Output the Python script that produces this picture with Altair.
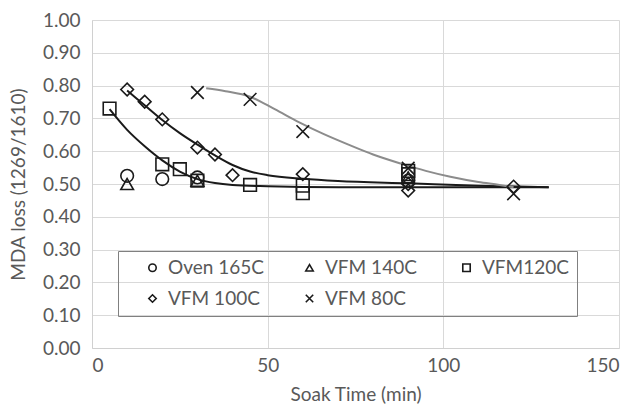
import altair as alt
import pandas as pd

series_names = ["Oven 165C", "VFM 140C", "VFM120C", "VFM 100C", "VFM 80C"]
series_shapes = ["circle", "triangle-up", "square", "diamond", "M-1,-1L1,1M1,-1L-1,1"]

oven_x = [10, 20, 30, 90]
oven_y = [0.525, 0.515, 0.52, 0.51]
vfm140_x = [10, 30, 90]
vfm140_y = [0.50, 0.51, 0.52]
vfm120_x = [5, 20, 25, 30, 45, 60, 60, 90, 90]
vfm120_y = [0.73, 0.56, 0.545, 0.51, 0.497, 0.495, 0.472, 0.54, 0.53]
vfm100_x = [10, 15, 20, 30, 35, 40, 60, 90, 90, 120]
vfm100_y = [0.788, 0.751, 0.697, 0.611, 0.59, 0.527, 0.53, 0.50, 0.48, 0.492]
vfm80_x = [30, 45, 60, 90, 120]
vfm80_y = [0.779, 0.758, 0.66, 0.548, 0.47]

fit120_x = [5, 10, 15, 20, 25, 30, 35, 40, 50, 60, 80, 100, 130]
fit120_y = [0.728, 0.665, 0.615, 0.572, 0.538, 0.515, 0.503, 0.497, 0.493, 0.491, 0.49, 0.49, 0.49]
fit100_x = [10, 15, 20, 25, 30, 35, 40, 45, 50, 60, 70, 90, 110, 130]
fit100_y = [0.785, 0.74, 0.695, 0.655, 0.62, 0.587, 0.558, 0.538, 0.527, 0.516, 0.509, 0.502, 0.495, 0.49]
fit80_x = [32.5, 38, 45, 52, 59, 66, 73, 80, 88, 95, 102, 110, 116, 120]
fit80_y = [0.792, 0.783, 0.766, 0.728, 0.688, 0.652, 0.62, 0.59, 0.562, 0.54, 0.522, 0.506, 0.497, 0.49]

y_ticks = [0.0, 0.1, 0.2, 0.3, 0.4, 0.5, 0.6, 0.7, 0.8, 0.9, 1.0]
x_ticks = [0, 50, 100, 150]

pts = []
for name, xs, ys in zip(series_names,
                        [oven_x, vfm140_x, vfm120_x, vfm100_x, vfm80_x],
                        [oven_y, vfm140_y, vfm120_y, vfm100_y, vfm80_y]):
    for a, b in zip(xs, ys):
        pts.append({"series": name, "x": a, "y": b})
points_df = pd.DataFrame(pts)

fits = []
for name, xs, ys in zip(["fit120", "fit100", "fit80"],
                        [fit120_x, fit100_x, fit80_x],
                        [fit120_y, fit100_y, fit80_y]):
    for i, (a, b) in enumerate(zip(xs, ys)):
        fits.append({"curve": name, "x": a, "y": b, "i": i})
fits_df = pd.DataFrame(fits)

x_scale = alt.Scale(domain=[0, 150], nice=False, zero=False)
y_scale = alt.Scale(domain=[0, 1], nice=False)

x_axis = alt.Axis(values=x_ticks, title="Soak Time (min)", labelPadding=8,
                  titlePadding=10, format="d", labelOverlap=False)
y_axis = alt.Axis(values=y_ticks, title="MDA loss (1269/1610)",
                  format=".2f", labelPadding=12, titlePadding=14, labelOverlap=False)

lines = alt.Chart(fits_df).mark_line(interpolate="monotone", strokeWidth=2).encode(
    x=alt.X("x:Q", scale=x_scale, axis=x_axis),
    y=alt.Y("y:Q", scale=y_scale, axis=y_axis),
    color=alt.Color("curve:N", scale=alt.Scale(domain=["fit120", "fit100", "fit80"],
                                               range=["#1a1a1a", "#1a1a1a", "#8c8c8c"]),
                    legend=None),
    detail="curve:N",
    order="i:Q",
)

points = alt.Chart(points_df).mark_point(filled=False, strokeWidth=1.6, size=160,
                                         color="#1a1a1a", opacity=1).encode(
    x=alt.X("x:Q", scale=x_scale, axis=x_axis),
    y=alt.Y("y:Q", scale=y_scale, axis=y_axis),
    shape=alt.Shape("series:N",
                    scale=alt.Scale(domain=series_names, range=series_shapes),
                    legend=alt.Legend(
                        title=" ", titleOrient="left", titlePadding=18,
                        titleFontSize=18,
                        orient="none", legendX=26, legendY=231,
                        direction="horizontal",
                        columns=3, gridAlign="all", columnPadding=36,
                        rowPadding=11, padding=7,
                        strokeColor="#808080",
                        labelFont="Lato", labelFontSize=19, labelColor="#595959",
                        labelOffset=6,
                        symbolSize=55, symbolStrokeColor="#1a1a1a",
                        symbolStrokeWidth=1.6, symbolFillColor="transparent",
                    )),
)

chart = alt.layer(lines, points).properties(
    width=527, height=328, autosize="none",
    padding={"left": 92, "top": 20, "right": 17, "bottom": 66},
    background="white",
).configure_axis(
    labelFont="Lato", labelFontSize=19, labelColor="#595959",
    titleFont="Lato", titleFontSize=19, titleColor="#595959", titleFontWeight="normal",
    gridColor="#d9d9d9", gridWidth=1, domainColor="#d0d0d0", ticks=False,
).configure_view(stroke=None)

chart.save("out.html", embed_options={"renderer": "svg", "actions": False})
